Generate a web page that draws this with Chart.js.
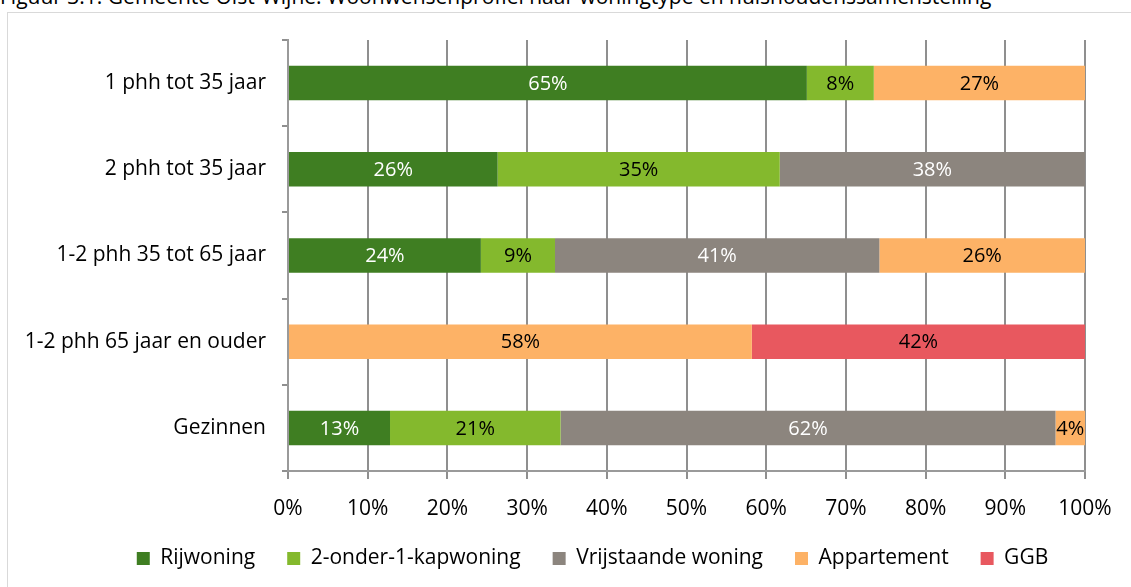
<!DOCTYPE html>
<html>
<head>
<meta charset="utf-8">
<script src="https://cdn.jsdelivr.net/npm/chart.js@4/dist/chart.umd.min.js"></script>
<style>
  body { margin: 0; background: #fff; overflow: hidden; }
  #title { position: absolute; left: 0; top: -18px; font: 21px "Open Sans", sans-serif; white-space: nowrap; color: #000; }
  #frame { position: absolute; left: 7px; top: 12px; width: 1140px; height: 600px; border: 1px solid #d9d9d9; }
  #wrap { position: absolute; left: 0; top: 0; width: 1131px; height: 587px; }
</style>
</head>
<body>
<div id="title">Figuur 3.1: Gemeente Olst-Wijhe: Woonwensenprofiel naar woningtype en huishoudenssamenstelling</div>
<div id="frame"></div>
<div id="wrap"><canvas id="chart"></canvas></div>
<script>
// categories and series (percentages)
const categories = ['1 phh tot 35 jaar', '2 phh tot 35 jaar', '1-2 phh 35 tot 65 jaar', '1-2 phh 65 jaar en ouder', 'Gezinnen'];
const rijwoning   = [65.1, 26.3, 24.2, 0, 12.8];
const tweeOnder   = [8.4, 35.4, 9.3, 0, 21.4];
const vrijstaand  = [0, 38.3, 40.7, 0, 62.1];
const appartement = [26.5, 0, 25.8, 58.2, 3.7];
const ggb         = [0, 0, 0, 41.8, 0];
const xTicks = [0, 10, 20, 30, 40, 50, 60, 70, 80, 90, 100];

const font = '"Open Sans", sans-serif';

// draws the value labels in the middle of each bar segment
const segmentLabels = {
  id: 'segmentLabels',
  afterLayout(chart) {
    // legend in the original is centred a bit right of the canvas middle
    const lg = chart.legend;
    lg.left = 100;
    lg.width = lg.right - lg.left;
  },
  afterDatasetsDraw(chart) {
    const ctx = chart.ctx;
    ctx.save();
    ctx.font = '20px ' + font;
    ctx.textAlign = 'center';
    ctx.textBaseline = 'middle';
    chart.data.datasets.forEach((ds, i) => {
      const meta = chart.getDatasetMeta(i);
      meta.data.forEach((bar, j) => {
        const v = ds.data[j];
        if (!v) return;
        ctx.fillStyle = ds.labelColor;
        ctx.fillText(Math.round(v) + '%', (bar.x + bar.base) / 2, bar.y + 1);
      });
    });
    ctx.restore();
  }
};

new Chart(document.getElementById('chart'), {
  type: 'bar',
  data: {
    labels: categories,
    datasets: [
      { label: 'Rijwoning', data: rijwoning, backgroundColor: '#3f7e22', labelColor: '#fff' },
      { label: '2-onder-1-kapwoning', data: tweeOnder, backgroundColor: '#84b92d', labelColor: '#000' },
      { label: 'Vrijstaande woning', data: vrijstaand, backgroundColor: '#8c857e', labelColor: '#fff' },
      { label: 'Appartement', data: appartement, backgroundColor: '#fdb266', labelColor: '#000' },
      { label: 'GGB', data: ggb, backgroundColor: '#e8585f', labelColor: '#000' }
    ]
  },
  options: {
    indexAxis: 'y',
    responsive: true,
    maintainAspectRatio: false,
    animation: false,
    datasets: { bar: { categoryPercentage: 1, barPercentage: 0.4 } },
    layout: { padding: { left: 0, right: 46, top: 40, bottom: 8 } },
    scales: {
      x: {
        stacked: true,
        min: 0,
        max: 100,
        afterBuildTicks(scale) { scale.ticks = xTicks.map(v => ({ value: v })); },
        afterFit(scale) { scale.height = 45; },
        grid: { color: '#8f8f8f', lineWidth: 2, tickLength: 8 },
        border: { color: '#9a9a9a', width: 2 },
        ticks: { color: '#000', font: { family: font, size: 21 }, padding: 17, callback: v => v + '%' }
      },
      y: {
        stacked: true,
        afterFit(scale) { scale.width = 288; },
        grid: { drawOnChartArea: false, color: '#8f8f8f', lineWidth: 2, tickLength: 6, offset: true },
        border: { color: '#9a9a9a', width: 2 },
        ticks: { color: '#000', font: { family: font, size: 21 }, padding: 16 }
      }
    },
    plugins: {
      tooltip: { enabled: false },
      legend: {
        position: 'bottom',
        labels: { boxWidth: 13, boxHeight: 13, padding: 32, color: '#000', font: { family: font, size: 21 } }
      }
    }
  },
  plugins: [segmentLabels]
});
</script>
</body>
</html>
